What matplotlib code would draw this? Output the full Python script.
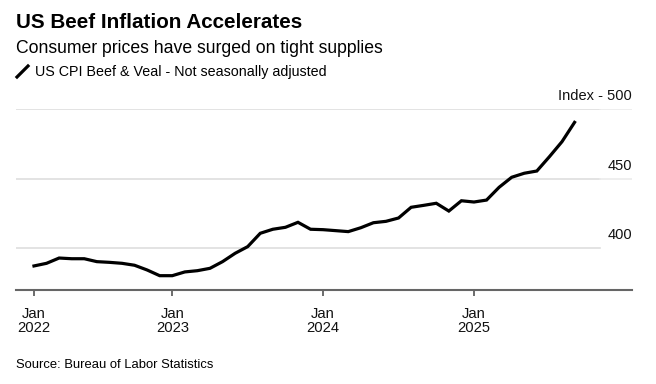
import matplotlib.pyplot as plt
from matplotlib.lines import Line2D

plt.rcParams['font.family'] = ['Liberation Sans', 'DejaVu Sans']

# monthly CPI beef & veal index, Feb 2022 .. Sep 2025
cpi = [387.3, 389.2, 393.0, 392.5, 392.5, 390.4, 389.9, 389.2, 387.8, 384.4,
       380.3, 380.3, 383.0, 383.9, 385.6, 390.4, 396.4, 401.2, 410.8, 413.7,
       415.1, 418.7, 413.7, 413.4, 412.7, 412.0, 414.8, 418.4, 419.4, 421.8,
       429.5, 430.9, 432.4, 426.8, 434.2, 433.3, 434.7, 443.9, 451.1, 454.0,
       455.6, 465.9, 476.7, 490.6]
months = list(range(len(cpi)))

tick_pos = [0, 11, 23, 35]
tick_labels = ['Jan\n2022', 'Jan\n2023', 'Jan\n2024', 'Jan\n2025']
grid_vals = [400, 450, 500]
grid_labels = ['400', '450', 'Index - 500']

W, H = 656, 384
fig = plt.figure(figsize=(W / 100, H / 100), dpi=100)
fig.patch.set_facecolor('white')

ax = fig.add_axes([16 / W, 1 - 290 / H, (632 - 16) / W, (290 - 109.3) / H])
ax.set_xlim(-1.43, 47.57)
ax.set_ylim(370, 500)

# gridlines (the 400 line is shorter)
cut = (600 - 16) / (632 - 16)
for v in grid_vals:
    ax.axhline(v, xmin=0, xmax=cut, color='#dedede', lw=1.2, zorder=1)
    if v != 400:
        ax.axhline(v, xmin=cut, xmax=1, color='#ebebeb', lw=1.2, zorder=1)

for v, lab in zip(grid_vals, grid_labels):
    ax.text(1.0, v + 6.6, lab, transform=ax.get_yaxis_transform(),
            ha='right', va='baseline', fontsize=10.5, color='#111111')

ax.plot(months, cpi, color='black', lw=2.3, solid_joinstyle='miter', zorder=3)

ax.set_xticks(tick_pos)
ax.set_xticklabels(tick_labels, fontsize=10.6, color='#111111', linespacing=1.05)
ax.tick_params(axis='x', length=4, width=1.1, color='#444444', pad=8)
ax.set_yticks([])

for s in ['top', 'right', 'left']:
    ax.spines[s].set_visible(False)
ax.spines['bottom'].set_color('#666666')
ax.spines['bottom'].set_linewidth(1.5)

fig.text(16 / W, 1 - 27.5 / H, 'US Beef Inflation Accelerates', fontsize=14.9,
         fontweight='bold', ha='left', va='baseline', color='black')
fig.text(16 / W, 1 - 52.7 / H, 'Consumer prices have surged on tight supplies',
         fontsize=12.7, ha='left', va='baseline', color='black')

# legend swatch
fig.add_artist(Line2D([17 / W, 28 / W], [1 - 77 / H, 1 - 66 / H], color='black', lw=2.3,
                      transform=fig.transFigure))
fig.text(35 / W, 1 - 76 / H, 'US CPI Beef & Veal - Not seasonally adjusted',
         fontsize=10.3, ha='left', va='baseline', color='black')

fig.text(16 / W, 1 - 368 / H, 'Source: Bureau of Labor Statistics',
         fontsize=9.4, ha='left', va='baseline', color='black')

fig.savefig('out.png', dpi=100, facecolor='white')
